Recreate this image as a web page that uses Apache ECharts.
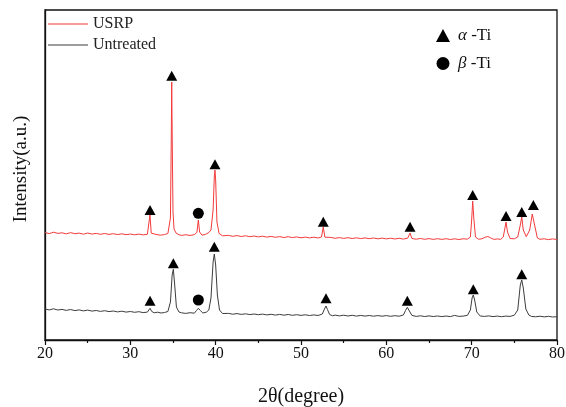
<!DOCTYPE html>
<html>
<head>
<meta charset="utf-8">
<script src="https://cdn.jsdelivr.net/npm/echarts@6/dist/echarts.min.js"></script>
<style>
  html, body { margin: 0; padding: 0; background: #fff; }
  #chart { width: 566px; height: 407px; }
</style>
</head>
<body>
<div id="chart"></div>
<script>
// 2theta / intensity pairs (arbitrary units, curves already offset)
const usrp = [
  [20.0, 107.5], [20.5, 106.4], [21.0, 107.8], [21.5, 106.6], [22.0, 107.2], [22.5, 106.1],
  [23.0, 107.4], [23.5, 106.3], [24.0, 106.9], [24.5, 105.8], [25.0, 107.0], [25.5, 105.9],
  [26.0, 106.6], [26.5, 105.7], [27.0, 106.5], [27.5, 105.6], [28.0, 106.3], [28.5, 105.4],
  [29.0, 106.2], [29.5, 105.3], [30.0, 106.0], [30.5, 105.2], [31.0, 105.9], [31.5, 105.1],
  [32.0, 105.8], [32.15, 106.5], [32.3, 125], [32.45, 106.8], [32.6, 104.9], [33.0, 105.6],
  [33.5, 104.8], [34.0, 105.4], [34.4, 106.5], [34.58, 108.5], [34.7, 122], [34.79, 195],
  [34.85, 258], [34.91, 200], [35.0, 128], [35.12, 111], [35.35, 107], [35.7, 105.2],
  [36.0, 104.6], [36.5, 105.3],
  [37.0, 104.5], [37.5, 105.4], [37.8, 107.5], [37.97, 120], [38.12, 108], [38.4, 104.8],
  [38.8, 105.6], [39.2, 107.5], [39.45, 110], [39.7, 130], [39.85, 165], [39.92, 170],
  [40.0, 160], [40.15, 118], [40.4, 106.5], [40.8, 104.2], [41.0, 103.8], [41.5, 104.6],
  [42.0, 103.7], [42.5, 104.4], [43.0, 103.5], [43.5, 104.2], [44.0, 103.3], [44.5, 104.0],
  [45.0, 103.1], [45.5, 103.8], [46.0, 102.9], [46.5, 103.6], [47.0, 102.7], [47.5, 103.4],
  [48.0, 102.5], [48.5, 103.3], [49.0, 102.4], [49.5, 103.1], [50.0, 102.2], [50.5, 102.9],
  [51.0, 102.1], [51.5, 102.8], [52.0, 102.0], [52.4, 103.0], [52.61, 113], [52.8, 102.8],
  [53.0, 101.8], [53.5, 102.6], [54.0, 101.7], [54.5, 102.4], [55.0, 101.6], [55.5, 102.3],
  [56.0, 101.5], [56.5, 102.2], [57.0, 101.4], [57.5, 102.1], [58.0, 101.3], [58.5, 102.0],
  [59.0, 101.2], [59.5, 101.9], [60.0, 101.1], [60.5, 101.8], [61.0, 101.0], [61.5, 101.7],
  [62.0, 100.9], [62.5, 101.8], [62.78, 107], [63.0, 101.5], [63.5, 100.8], [64.0, 101.5],
  [64.5, 100.7], [65.0, 101.4], [65.5, 100.6], [66.0, 101.3], [66.5, 100.6], [67.0, 101.3],
  [67.5, 100.5], [68.0, 101.2], [68.5, 100.5], [69.0, 101.2], [69.5, 100.9], [69.85, 103],
  [70.0, 120], [70.12, 139], [70.25, 122], [70.45, 103], [70.8, 100.8], [71.2, 101.2],
  [71.6, 102.8], [71.9, 103.5], [72.2, 102.2], [72.6, 100.6], [73.0, 101.1], [73.4, 100.6],
  [73.7, 103], [73.9, 112], [74.03, 118], [74.2, 108], [74.5, 101.5], [75.0, 101.2],
  [75.4, 103], [75.7, 115], [75.87, 123], [76.05, 110], [76.4, 103.3], [76.8, 110],
  [77.1, 126], [77.23, 128], [77.4, 114], [77.7, 102], [78.0, 100.7], [78.5, 101.2],
  [79.0, 100.4], [79.5, 101.1], [80.0, 100.5]
];

const untreated = [
  [20.0, 31.0], [20.5, 30.1], [21.0, 31.2], [21.5, 30.0], [22.0, 30.6], [22.5, 29.6],
  [23.0, 30.5], [23.5, 29.4], [24.0, 30.1], [24.5, 29.1], [25.0, 29.9], [25.5, 28.9],
  [26.0, 29.5], [26.5, 28.6], [27.0, 29.3], [27.5, 28.4], [28.0, 29.0], [28.5, 28.1],
  [29.0, 28.8], [29.5, 27.9], [30.0, 28.5], [30.5, 27.7], [31.0, 28.3], [31.5, 27.4],
  [32.0, 27.9], [32.15, 29], [32.31, 31.7], [32.5, 28.6], [32.8, 27.2], [33.2, 27.8],
  [33.6, 27.0], [34.0, 27.5], [34.4, 28.5], [34.7, 38], [34.9, 65], [35.04, 70.7],
  [35.2, 55], [35.4, 33], [35.7, 28], [36.0, 27.2], [36.5, 26.6], [37.0, 27.3],
  [37.5, 26.8], [37.75, 29.5], [37.97, 31.7], [38.2, 29.5], [38.5, 27.0], [38.9, 27.8],
  [39.2, 30], [39.45, 42], [39.7, 78], [39.84, 86], [40.0, 75], [40.2, 45],
  [40.45, 30], [40.8, 26.5], [41.0, 26.0], [41.5, 26.6], [42.0, 25.8], [42.5, 26.4],
  [43.0, 25.6], [43.5, 26.2], [44.0, 25.4], [44.5, 26.0], [45.0, 25.3], [45.5, 25.9],
  [46.0, 25.1], [46.5, 25.7], [47.0, 24.9], [47.5, 25.6], [48.0, 24.8], [48.5, 25.5],
  [49.0, 24.7], [49.5, 25.3], [50.0, 24.6], [50.5, 25.2], [51.0, 24.5], [51.5, 25.1],
  [52.0, 24.5], [52.5, 26], [52.75, 31], [52.93, 34], [53.1, 30.5], [53.35, 25.5],
  [53.7, 24.2], [54.0, 24.9], [54.5, 24.1], [55.0, 24.8], [55.5, 24.0], [56.0, 24.7],
  [56.5, 23.9], [57.0, 24.6], [57.5, 23.9], [58.0, 24.5], [58.5, 23.8], [59.0, 24.4],
  [59.5, 23.8], [60.0, 24.4], [60.5, 23.7], [61.0, 24.3], [61.5, 23.8], [62.0, 25.0],
  [62.25, 29.5], [62.46, 32.7], [62.7, 29], [63.0, 24.6], [63.5, 23.6], [64.0, 24.2],
  [64.5, 23.5], [65.0, 24.1], [65.5, 23.5], [66.0, 24.0], [66.5, 23.4], [67.0, 24.0],
  [67.5, 23.4], [68.0, 24.6], [68.5, 23.6], [69.0, 23.9], [69.5, 24.6], [69.85, 30],
  [70.05, 42], [70.19, 45], [70.35, 40], [70.6, 28], [71.0, 24], [71.5, 23.6],
  [72.0, 24.1], [72.5, 23.4], [73.0, 23.9], [73.5, 23.3], [74.0, 23.9], [74.5, 23.6],
  [75.0, 24.8], [75.4, 30], [75.7, 55], [75.87, 60], [76.05, 52], [76.35, 31],
  [76.7, 25], [77.0, 23.6], [77.5, 23.2], [78.0, 23.8], [78.5, 23.1], [79.0, 23.7],
  [79.5, 23.0], [80.0, 23.3]
];

// phase markers placed just above the peaks
const alphaTi = [
  [32.31, 130], [34.85, 264.3], [39.92, 175.7], [52.61, 118.3], [62.78, 113.3],
  [70.12, 145], [74.03, 124], [75.87, 128], [77.23, 135],
  [32.31, 39.3], [35.04, 76.7], [39.84, 93.3], [52.93, 41.7], [62.46, 39.3],
  [70.19, 50.7], [75.87, 65.7]
];
const betaTi = [[37.97, 126.7], [37.97, 40]];

const xTicks = [20, 30, 40, 50, 60, 70, 80];

const serif = "'Liberation Serif', 'Times New Roman', serif";

const myChart = echarts.init(document.getElementById('chart'));

const option = {
  animation: false,
  grid: {
    left: 45, right: 9, top: 10, bottom: 67,
    outerBoundsMode: 'none',
    show: true,
    borderColor: '#111',
    borderWidth: 1.3
  },
  legend: [
    {
      data: [
        { name: 'USRP', icon: 'rect' },
        { name: 'Untreated', icon: 'rect' }
      ],
      orient: 'vertical',
      left: 43,
      top: 11,
      itemWidth: 40,
      itemHeight: 1.2,
      itemGap: 5,
      textStyle: { fontFamily: serif, fontSize: 16, color: '#222', lineHeight: 16 }
    },
    {
      data: ['α-Ti', 'β-Ti'],
      orient: 'vertical',
      left: 431,
      top: 22,
      itemWidth: 14,
      itemHeight: 13,
      itemGap: 11,
      formatter: name => '{g|' + name[0] + '} -Ti',
      textStyle: {
        fontFamily: serif, fontSize: 17, color: '#111',
        padding: [0, 0, 0, 3],
        rich: { g: { fontFamily: serif, fontSize: 17, fontStyle: 'italic', color: '#111' } }
      }
    }
  ],
  xAxis: {
    type: 'value',
    min: xTicks[0],
    max: xTicks[xTicks.length - 1],
    interval: 10,
    name: '2θ(degree)',
    nameLocation: 'middle',
    nameGap: 47,
    nameTextStyle: { fontFamily: serif, fontSize: 20, color: '#111' },
    axisLine: { lineStyle: { color: '#111', width: 1.3 } },
    axisTick: { length: 5, lineStyle: { color: '#111', width: 1.2 } },
    minorTick: { show: true, splitNumber: 2, length: 3, lineStyle: { color: '#111', width: 1.2 } },
    axisLabel: { fontFamily: serif, fontSize: 16, color: '#111', margin: 6 },
    splitLine: { show: false }
  },
  yAxis: {
    type: 'value',
    min: 0,
    max: 330,
    name: 'Intensity(a.u.)',
    nameLocation: 'middle',
    nameGap: 14,
    nameTextStyle: { fontFamily: serif, fontSize: 19, color: '#111', padding: [0, 0, 0, 12] },
    axisLine: { show: true, lineStyle: { color: '#111', width: 1.3 } },
    axisTick: { show: false },
    axisLabel: { show: false },
    splitLine: { show: false }
  },
  series: [
    {
      name: 'USRP',
      type: 'line',
      data: usrp,
      symbol: 'none',
      lineStyle: { color: '#f23a3a', width: 1 },
      itemStyle: { color: '#f23a3a' }
    },
    {
      name: 'Untreated',
      type: 'line',
      data: untreated,
      symbol: 'none',
      lineStyle: { color: '#3c3c3c', width: 1 },
      itemStyle: { color: '#3c3c3c' }
    },
    {
      name: 'α-Ti',
      type: 'scatter',
      symbol: 'triangle',
      symbolSize: [11, 10],
      data: alphaTi,
      itemStyle: { color: '#000', opacity: 1 }
    },
    {
      name: 'β-Ti',
      type: 'scatter',
      symbol: 'circle',
      symbolSize: 11,
      data: betaTi,
      itemStyle: { color: '#000', opacity: 1 }
    }
  ]
};

option && myChart.setOption(option);
</script>
</body>
</html>
